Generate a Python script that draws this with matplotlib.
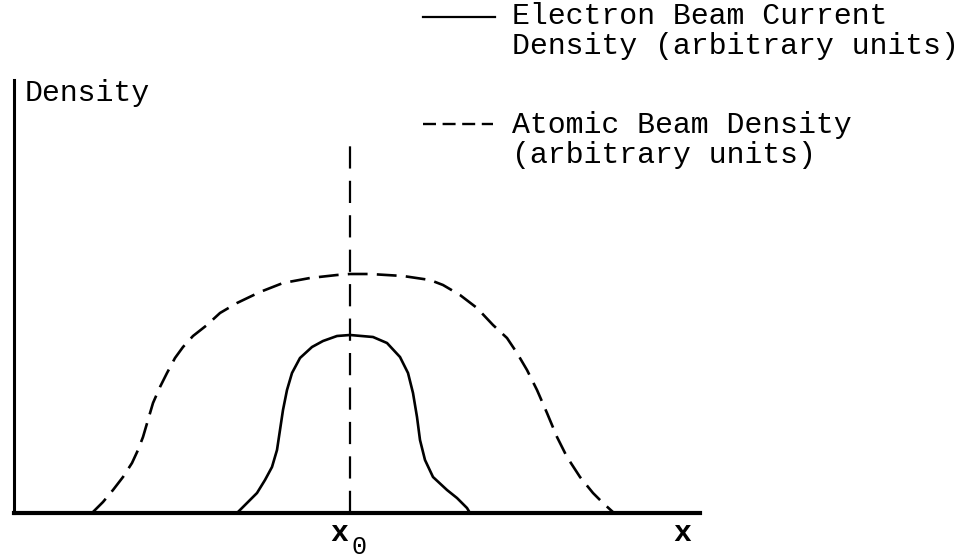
import matplotlib.pyplot as plt
from matplotlib.transforms import blended_transform_factory

# beam profiles, position vs density (arbitrary units)
atomic_x = [7.8, 8.9, 9.9, 10.9, 11.8, 12.4, 12.9, 13.4, 13.9, 14.6, 15.3, 16.1,
            16.9, 17.9, 19.3, 20.6, 22.3, 24.6, 26.9, 29.6, 32.3, 33.6, 35.6,
            38.9, 41.6, 42.9, 44.6, 46.3, 47.9, 49.3, 50.3, 51.3, 52.3, 53.3,
            54.3, 55.3, 56.6, 57.9, 58.9, 60.0]
atomic_y = [0.0, 1.1, 2.3, 3.6, 5.0, 6.3, 7.6, 9.3, 11.0, 12.6, 14.0, 15.5,
            16.6, 17.7, 18.8, 20.0, 21.0, 22.1, 23.0, 23.5, 23.8, 23.9, 23.9,
            23.7, 23.3, 22.8, 21.8, 20.5, 18.8, 17.5, 16.0, 14.3, 12.3, 10.0,
            7.6, 5.6, 3.6, 2.0, 1.0, 0.0]

electron_x = [22.3, 23.3, 24.3, 25.1, 25.8, 26.3, 26.6, 26.9, 27.3, 27.8, 28.6,
              29.8, 30.9, 32.3, 33.6, 35.9, 37.3, 38.6, 39.4, 39.9, 40.3, 40.6,
              41.1, 41.9, 43.3, 44.3, 45.3, 45.6]
electron_y = [0.0, 1.0, 2.0, 3.3, 4.6, 6.3, 8.3, 10.3, 12.3, 14.0, 15.5,
              16.6, 17.2, 17.7, 17.8, 17.6, 17.0, 15.6, 14.0, 12.0, 9.6, 7.3,
              5.3, 3.6, 2.3, 1.5, 0.5, 0.0]

x0 = 33.6
x0_top = 37.8

legend_labels = ["Electron Beam Current\nDensity (arbitrary units)",
                 "Atomic Beam Density\n(arbitrary units)"]

plt.rcParams["font.family"] = ["Liberation Mono", "DejaVu Sans Mono"]

fig = plt.figure(figsize=(9.63, 5.59), dpi=100)
ax = fig.add_axes([14 / 963, 46 / 559, 686 / 963, 433 / 559])
ax.set_xlim(0, 68.6)
ax.set_ylim(0, 43.3)

ax.plot(electron_x, electron_y, color="black", lw=1.9, solid_joinstyle="round")
ax.plot(atomic_x, atomic_y, color="black", lw=1.9, dashes=(7.5, 3.5))
ax.plot([x0, x0], [0, x0_top], color="black", lw=1.6, dashes=(10, 5.5))

for side in ["top", "right"]:
    ax.spines[side].set_visible(False)
ax.spines["left"].set_linewidth(2.2)
ax.spines["bottom"].set_linewidth(3.0)
ax.set_xticks([])
ax.set_yticks([])

txt = dict(color="black", fontsize=21.5)
ax.text(25 / 963, 1 - 93 / 559, "Density", transform=fig.transFigure,
        ha="left", va="center", **txt)

# x0 marker label under the axis
tb = blended_transform_factory(ax.transData, fig.transFigure)
ax.text(x0 - 0.2, 1 - 533 / 559, "x", transform=tb, ha="right", va="center",
        fontweight="bold", **txt)
ax.text(x0 + 0.1, 1 - 547 / 559, "0", transform=tb, ha="left", va="center",
        color="black", fontsize=18)
ax.text(66.8, 1 - 533 / 559, "x", transform=tb, ha="center", va="center",
        fontweight="bold", **txt)

# key at the top right
fig.lines.append(plt.Line2D([423 / 963, 495 / 963], [1 - 17 / 559, 1 - 17 / 559],
                            color="black", lw=1.6, transform=fig.transFigure))
fig.lines.append(plt.Line2D([423 / 963, 493 / 963], [1 - 124 / 559, 1 - 124 / 559],
                            color="black", lw=1.7, dashes=(5.5, 2.8),
                            transform=fig.transFigure))
fig.text(512 / 963, 1 - 31 / 559, legend_labels[0], ha="left", va="center",
         linespacing=1.05, **txt)
fig.text(512 / 963, 1 - 140 / 559, legend_labels[1], ha="left", va="center",
         linespacing=1.05, **txt)

fig.savefig("out.png", dpi=100)
